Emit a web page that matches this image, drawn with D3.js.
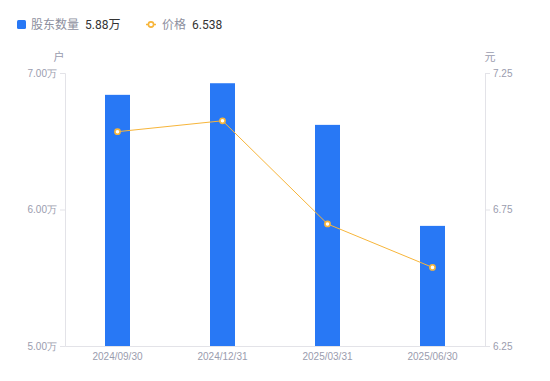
<!DOCTYPE html>
<html>
<head>
<meta charset="utf-8">
<script src="https://cdn.jsdelivr.net/npm/d3@7"></script>
<style>
  body { margin: 0; background: #fff; }
  svg { font-family: Roboto, "Noto Sans CJK SC", sans-serif; }
</style>
</head>
<body>
<svg id="chart" width="550" height="381"></svg>
<script>
// data
let dates = ['2024/09/30', '2024/12/31', '2025/03/31', '2025/06/30'];
let holders = [6.84, 6.925, 6.62, 5.88];   // 万户
let prices = [7.035, 7.075, 6.697, 6.538]; // 元
let leftTicks = [5, 6, 7];
let rightTicks = [6.25, 6.75, 7.25];

let blue = '#2878f5';
let orange = '#f7b53a';
let tickColor = '#9a9cae';
let axisColor = '#e3e3e8';

let svg = d3.select('#chart');
let m = {left: 65, right: 485, top: 73, bottom: 346};

let x = d3.scaleBand().domain(dates).range([m.left, m.right]);
let yL = d3.scaleLinear().domain([5, 7]).range([m.bottom, m.top]);
let yR = d3.scaleLinear().domain([6.25, 7.25]).range([m.bottom, m.top]);

// left axis
let gL = svg.append('g').attr('transform', `translate(${m.left},0)`)
  .call(d3.axisLeft(yL).tickValues(leftTicks).tickSize(5).tickPadding(3)
    .tickFormat(d => d3.format('.2f')(d) + '万'));
// right axis
let gR = svg.append('g').attr('transform', `translate(${m.right},0)`)
  .call(d3.axisRight(yR).tickValues(rightTicks).tickSize(5).tickPadding(3)
    .tickFormat(d3.format('.2f')));
// bottom axis
let gB = svg.append('g').attr('transform', `translate(0,${m.bottom})`)
  .call(d3.axisBottom(x).tickSize(0).tickPadding(7));

[gL, gR, gB].forEach(g => {
  g.select('.domain').attr('stroke', axisColor);
  g.selectAll('.tick line').attr('stroke', axisColor);
  g.selectAll('.tick text').attr('fill', tickColor).attr('font-size', 10);
});

// axis titles
svg.append('text').attr('x', 59).attr('y', 61).attr('text-anchor', 'middle')
  .attr('font-size', 11).attr('fill', tickColor).text('户');
svg.append('text').attr('x', 490).attr('y', 61).attr('text-anchor', 'middle')
  .attr('font-size', 11).attr('fill', tickColor).text('元');

// bars
let bw = 25;
svg.append('g').selectAll('rect')
  .data(holders)
  .join('rect')
    .attr('x', (d, i) => x(dates[i]) + x.bandwidth() / 2 - bw / 2)
    .attr('y', d => yL(d))
    .attr('width', bw)
    .attr('height', d => yL(5) - yL(d))
    .attr('fill', blue);

// price line
let line = d3.line()
  .x((d, i) => x(dates[i]) + x.bandwidth() / 2)
  .y(d => yR(d));
svg.append('path').datum(prices)
  .attr('d', line)
  .attr('fill', 'none')
  .attr('stroke', orange)
  .attr('stroke-width', 1);
svg.append('g').selectAll('circle')
  .data(prices)
  .join('circle')
    .attr('cx', (d, i) => x(dates[i]) + x.bandwidth() / 2)
    .attr('cy', d => yR(d))
    .attr('r', 2.6)
    .attr('fill', '#fff')
    .attr('stroke', orange)
    .attr('stroke-width', 1.6);

// legend
let lg = svg.append('g').attr('font-size', 12);
lg.append('rect').attr('x', 17).attr('y', 20).attr('width', 9).attr('height', 9)
  .attr('rx', 1.5).attr('fill', blue);
lg.append('text').attr('x', 31).attr('y', 29).attr('fill', '#8d8f9e').text('股东数量');
lg.append('text').attr('x', 85).attr('y', 29).attr('fill', '#333').text(holders[3].toFixed(2) + '万');
lg.append('line').attr('x1', 146).attr('x2', 156).attr('y1', 24.5).attr('y2', 24.5)
  .attr('stroke', orange).attr('stroke-width', 1.5);
lg.append('circle').attr('cx', 151).attr('cy', 24.5).attr('r', 2.6)
  .attr('fill', '#fff').attr('stroke', orange).attr('stroke-width', 1.6);
lg.append('text').attr('x', 162).attr('y', 29).attr('fill', '#8d8f9e').text('价格');
lg.append('text').attr('x', 192).attr('y', 29).attr('fill', '#333').text(prices[3].toFixed(3));
</script>
</body>
</html>
